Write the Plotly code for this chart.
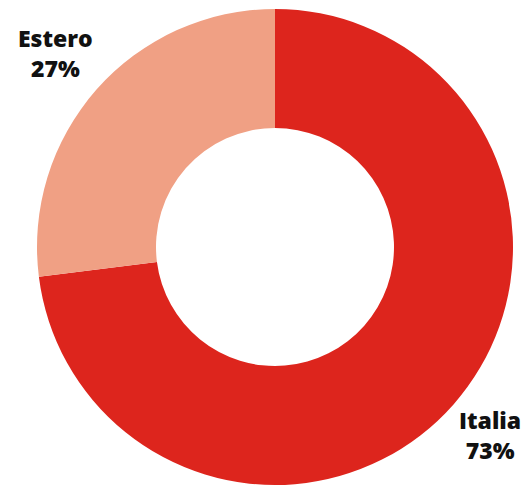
import plotly.graph_objects as go

labels = ["Italia", "Estero"]
values = [73, 27]
colors = ["#dd251d", "#f0a084"]

W, H = 529, 494
OFF = 8  # page body margin shifts the figure by this much

fig = go.Figure()
fig.add_trace(
    go.Pie(
        labels=labels,
        values=values,
        hole=0.5,
        sort=False,
        direction="clockwise",
        rotation=0,
        marker=dict(colors=colors, line=dict(width=0)),
        textinfo="none",
        hoverinfo="label+percent",
        domain=dict(
            x=[(37 - OFF) / W, (513 - OFF) / W],
            y=[1 - (485 - OFF) / H, 1 - (9 - OFF) / H],
        ),
        showlegend=False,
    )
)

# slice labels placed beside the ring
label_pos = {"Estero": (55, 53), "Italia": (490, 435)}
for name, val in zip(labels, values):
    x, y = label_pos[name]
    fig.add_annotation(
        x=(x - OFF) / W,
        y=1 - (y - OFF) / H,
        xref="paper",
        yref="paper",
        xanchor="center",
        yanchor="middle",
        text=f"{name}<br>{val}%",
        showarrow=False,
        font=dict(family="Open Sans", size=23, weight=800, color="#111111"),
        align="center",
    )

fig.update_layout(
    width=W,
    height=H,
    margin=dict(l=0, r=0, t=0, b=0),
    paper_bgcolor="white",
    plot_bgcolor="white",
)

fig.write_html("out.html")
